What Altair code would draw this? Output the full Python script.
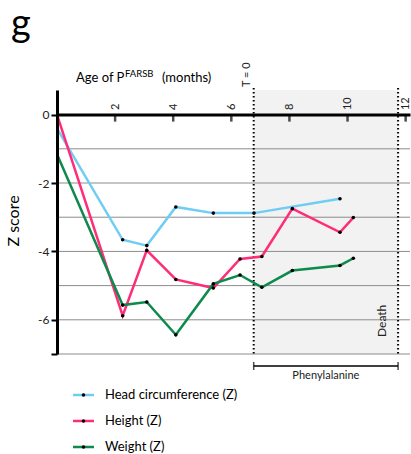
import altair as alt
import pandas as pd

# ---- data -------------------------------------------------------------
series_names = ["Head circumference (Z)", "Height (Z)", "Weight (Z)"]
series_colors = ["#6fcdf4", "#ff2d78", "#0e8a4c"]

head_months = [0, 2.26, 3.09, 4.09, 5.38, 6.78, 9.74]
head_z = [-0.40, -3.66, -3.83, -2.70, -2.88, -2.88, -2.46]

height_months = [0, 2.26, 3.09, 4.09, 5.38, 6.30, 7.05, 8.10, 9.74, 10.20]
height_z = [0.0, -5.88, -3.97, -4.82, -5.07, -4.22, -4.15, -2.75, -3.44, -3.01]

weight_months = [0, 2.26, 3.09, 4.09, 5.38, 6.30, 7.05, 8.10, 9.74, 10.20]
weight_z = [-1.16, -5.57, -5.48, -6.44, -4.95, -4.69, -5.05, -4.56, -4.41, -4.20]

x_ticks = [2, 4, 6, 8, 10, 12]
y_ticks = [0, -2, -4, -6, -7]
grid_levels = [-1, -2, -3, -4, -5, -6, -7]

treatment_start = 6.77   # T = 0, start of phenylalanine
death_month = 11.74

# ---- tables -----------------------------------------------------------
rows = []
for name, ms, zs in zip(series_names,
                        [head_months, height_months, weight_months],
                        [head_z, height_z, weight_z]):
    for i, (m, z) in enumerate(zip(ms, zs)):
        rows.append({"series": name, "month": m, "z": z, "idx": i})
df = pd.DataFrame(rows)

W, H = 353, 264
FONT = "Lato"

xs = alt.Scale(domain=[0, 12.15], nice=False, zero=False)
ys = alt.Scale(domain=[-7, 0.72], nice=False, zero=False)
color_scale = alt.Scale(domain=series_names, range=series_colors)

# month axis sits on the z = 0 line, labels rotated
x_axis = alt.Axis(
    orient="top", offset=-24.6, values=x_ticks, labelAngle=270,
    ticks=False, grid=False, title=None, domainColor="black",
    domainWidth=3, labelFontSize=11, labelColor="#222222",
    labelPadding=5, labelFont=FONT, zindex=1,
)
y_axis = alt.Axis(
    orient="left", values=y_ticks, grid=False, title=None,
    domainColor="black", domainWidth=3, tickColor="black",
    tickWidth=2, tickSize=6, labelFontSize=12, labelColor="#222222",
    labelPadding=2, labelFont=FONT, zindex=1,
    labelExpr="datum.value == -7 ? '' : toString(datum.value)",
)


def X(field):
    return alt.X(field, scale=xs, axis=x_axis)


def Y(field):
    return alt.Y(field, scale=ys, axis=y_axis)


one = pd.DataFrame({"k": [0]})
window = pd.DataFrame({"s": [treatment_start], "e": [death_month]})
edges = pd.DataFrame({"m": [treatment_start, death_month]})

# shaded treatment window
shade = alt.Chart(window).mark_rect(color="#f2f2f2").encode(
    x=X("s:Q"), x2="e:Q", y=alt.value(0), y2=alt.value(H),
)

grid = alt.Chart(pd.DataFrame({"z": grid_levels})).mark_rule(
    color="#8c8c8c", strokeWidth=1
).encode(y=Y("z:Q"), x=alt.value(0), x2=alt.value(W))

markers = alt.Chart(edges).mark_rule(
    color="black", strokeWidth=2, strokeDash=[1.5, 2.5]
).encode(x=X("m:Q"), y=alt.value(-2), y2=alt.value(H))

lines = alt.Chart(df).mark_line(strokeWidth=2.5).encode(
    x=X("month:Q"),
    y=Y("z:Q"),
    color=alt.Color("series:N", scale=color_scale, legend=None),
    order="idx:Q",
)

dots = alt.Chart(df).transform_filter("datum.month > 0").mark_circle(
    size=13, color="black", opacity=1
).encode(x=X("month:Q"), y=Y("z:Q"))

# inward ticks on the month axis
xticks = alt.Chart(pd.DataFrame({"month": x_ticks, "z": [0] * len(x_ticks)})).mark_tick(
    orient="vertical", size=7, thickness=2.5, color="black", yOffset=3.5
).encode(x=X("month:Q"), y=Y("z:Q"))

# phenylalanine bracket under the plot
bracket = alt.Chart(window).mark_rule(color="black", strokeWidth=1.5).encode(
    x=X("s:Q"), x2="e:Q", y=alt.value(276),
)
bracket_caps = alt.Chart(edges).mark_tick(
    orient="vertical", size=8, thickness=1.5, color="black"
).encode(x=X("m:Q"), y=alt.value(276))
bracket_label = alt.Chart(
    pd.DataFrame({"m": [(treatment_start + death_month) / 2], "txt": ["Phenylalanine"]})
).mark_text(font=FONT, fontSize=11, color="#222222", baseline="middle").encode(
    x=X("m:Q"), y=alt.value(286), text="txt:N",
)

t0_label = alt.Chart(pd.DataFrame({"m": [treatment_start], "txt": ["T = 0"]})).mark_text(
    font=FONT, fontSize=11, color="#222222", angle=270, align="left",
    baseline="middle", dy=-7,
).encode(x=X("m:Q"), y=alt.value(-3), text="txt:N")

death_label = alt.Chart(pd.DataFrame({"m": [death_month], "txt": ["Death"]})).mark_text(
    font=FONT, fontSize=12, color="#222222", angle=270, align="left",
    baseline="middle", dy=-16,
).encode(x=X("m:Q"), y=alt.value(247), text="txt:N")


def label(text, x, y, size, **kw):
    return alt.Chart(one).mark_text(
        text=text, font=FONT, fontSize=size, color="black", **kw
    ).encode(x=alt.value(x), y=alt.value(y))


panel_letter = label("g", -46, -54, 38, align="left", baseline="alphabetic")
title_a = label("Age of P", 19, -8, 13, align="left", baseline="alphabetic")
title_sup = label("FARSB", 68, -13, 9.5, align="left", baseline="alphabetic")
title_b = label("(months)", 105, -8, 13, align="left", baseline="alphabetic")
y_title = label("Z score", -43, 131, 16, align="center", baseline="middle", angle=270)

# hand-drawn legend below the plot
legend_layers = []
for i, (name, col) in enumerate(zip(series_names, series_colors)):
    ly = 305 + 26 * i
    legend_layers.append(
        alt.Chart(one).mark_rule(color=col, strokeWidth=2.5).encode(
            x=alt.value(16), x2=alt.value(37), y=alt.value(ly)
        )
    )
    legend_layers.append(
        alt.Chart(one).mark_circle(color="black", size=13, opacity=1).encode(
            x=alt.value(26.5), y=alt.value(ly)
        )
    )
    legend_layers.append(
        alt.Chart(one).mark_text(
            text=name, font=FONT, fontSize=13, color="black",
            align="left", baseline="middle",
        ).encode(x=alt.value(48), y=alt.value(ly))
    )

chart = alt.layer(
    shade, grid, markers, lines, dots, xticks,
    bracket, bracket_caps, bracket_label, t0_label, death_label,
    panel_letter, title_a, title_sup, title_b, y_title,
    *legend_layers,
).properties(
    width=W,
    height=H,
    autosize=alt.AutoSizeParams(type="none"),
    padding={"left": 57, "top": 90, "right": 1, "bottom": 100},
    background="white",
).configure_view(stroke=None)

chart.save("out.html", embed_options={"renderer": "svg", "actions": False})
